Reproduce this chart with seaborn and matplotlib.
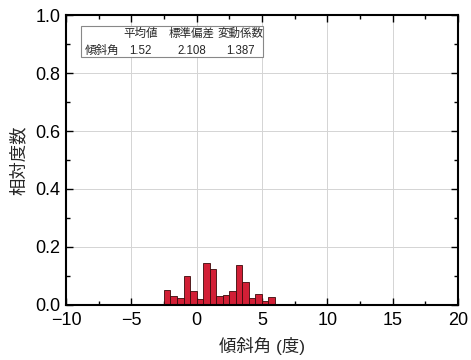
import matplotlib
matplotlib.use("Agg")
import matplotlib.pyplot as plt
from matplotlib.ticker import MultipleLocator, FormatStrFormatter
from matplotlib.patches import Rectangle
import numpy as np
import pandas as pd
import seaborn as sns

# Histogram of tilt angle: bins of 0.5 degree from -2.5 to 6.0
bin_left = [-2.5, -2.0, -1.5, -1.0, -0.5, 0.0, 0.5, 1.0, 1.5,
            2.0, 2.5, 3.0, 3.5, 4.0, 4.5, 5.0, 5.5]
rel_freq = [0.052, 0.031, 0.025, 0.100, 0.049, 0.021, 0.144, 0.125, 0.030,
            0.034, 0.048, 0.139, 0.078, 0.023, 0.038, 0.014, 0.027]
bin_width = 0.5

# Summary statistics table
stat_headers = ["平均値", "標準偏差", "変動係数"]
row_label = "傾斜角"
stat_values = ["1.52", "2.108", "1.387"]

sns.set_theme(style="ticks")
plt.rcParams["font.family"] = ["Liberation Sans", "Noto Sans CJK JP", "DejaVu Sans"]

df = pd.DataFrame({"angle": np.array(bin_left) + bin_width / 2, "freq": rel_freq})

fig = plt.figure(figsize=(4.71, 3.60), dpi=100)
ax = fig.add_axes([0.140, 0.153, 0.832, 0.805])

ax.grid(True, which="major", color="#d4d4d4", linewidth=0.7)
ax.set_axisbelow(True)

sns.histplot(data=df, x="angle", weights="freq", binwidth=bin_width,
             binrange=(bin_left[0], bin_left[-1] + bin_width), stat="count",
             color="#d21f36", alpha=1.0, edgecolor="#3a0a0a", linewidth=0.6, ax=ax)

ax.set_xlim(-10, 20)
ax.set_ylim(0, 1.0)
ax.xaxis.set_major_locator(MultipleLocator(5))
ax.xaxis.set_minor_locator(MultipleLocator(2.5))
ax.yaxis.set_major_locator(MultipleLocator(0.2))
ax.yaxis.set_minor_locator(MultipleLocator(0.1))
ax.yaxis.set_major_formatter(FormatStrFormatter("%.1f"))

ax.tick_params(which="both", direction="in", top=True, right=True, colors="black",
               labelsize=13, width=1.0)
ax.tick_params(which="major", length=5)
ax.tick_params(which="minor", length=3)
ax.tick_params(axis="x", which="major", pad=5)
ax.tick_params(axis="y", which="major", pad=4)
for s in ax.spines.values():
    s.set_linewidth(1.5)
    s.set_color("black")

ax.set_xlabel("傾斜角 (度)", fontsize=12.5, labelpad=6)
ax.set_ylabel("相対度数", fontsize=12.5, labelpad=6)

# Statistics box in the upper-left corner
box = Rectangle((0.038, 0.855), 0.465, 0.108, transform=ax.transAxes,
                facecolor="white", edgecolor="#888888", linewidth=0.8, zorder=5)
ax.add_patch(box)
col_x = [0.19, 0.32, 0.445]
ax.text(0.048, 0.875, row_label, transform=ax.transAxes, fontsize=8.3,
        ha="left", va="center", zorder=6)
for cx, h, v in zip(col_x, stat_headers, stat_values):
    ax.text(cx, 0.935, h, transform=ax.transAxes, fontsize=8.3,
            ha="center", va="center", zorder=6)
    ax.text(cx, 0.875, v, transform=ax.transAxes, fontsize=8.3,
            ha="center", va="center", zorder=6)

fig.savefig("out.png", dpi=100)
